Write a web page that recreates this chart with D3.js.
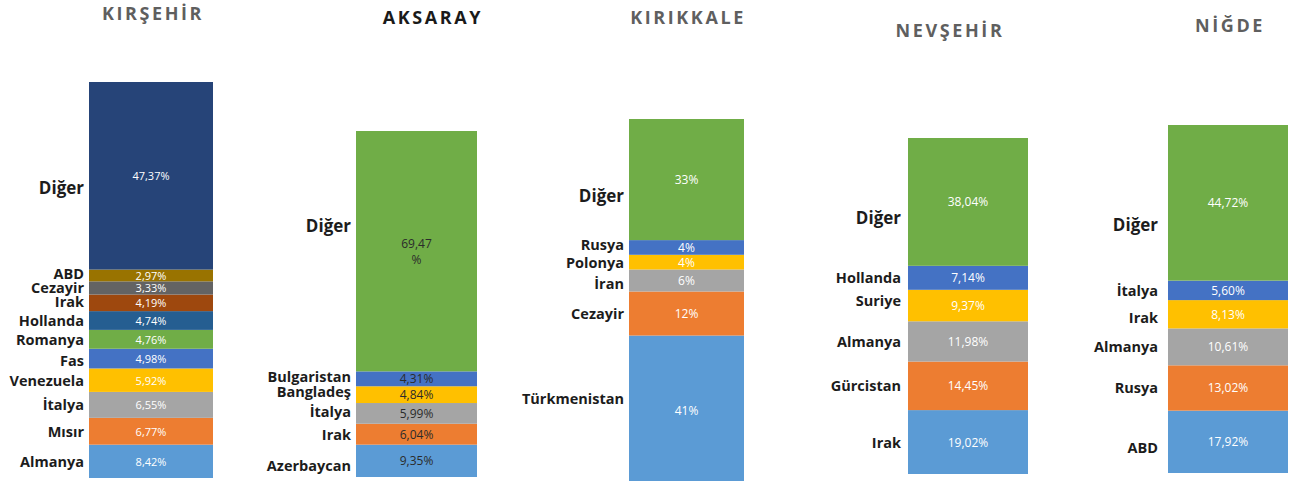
<!DOCTYPE html>
<html>
<head>
<meta charset="utf-8">
<script src="https://cdn.jsdelivr.net/npm/d3@7"></script>
<style>
  body { margin: 0; background: #fff; }
  text { font-family: "Open Sans", "DejaVu Sans", sans-serif; }
</style>
</head>
<body>
<div id="chart"></div>
<script>
// ---------------- DATA (bottom of each bar first) ----------------
var provinces = ["KIRŞEHİR", "AKSARAY", "KIRIKKALE", "NEVŞEHİR", "NİĞDE"];

var kirsehirCountries = ["Almanya", "Mısır", "İtalya", "Venezuela", "Fas", "Romanya", "Hollanda", "Irak", "Cezayir", "ABD", "Diğer"];
var kirsehirShares    = [8.42, 6.77, 6.55, 5.92, 4.98, 4.76, 4.74, 4.19, 3.33, 2.97, 47.37];

var aksarayCountries = ["Azerbaycan", "Irak", "İtalya", "Bangladeş", "Bulgaristan", "Diğer"];
var aksarayShares    = [9.35, 6.04, 5.99, 4.84, 4.31, 69.47];

var kirikkaleCountries = ["Türkmenistan", "Cezayir", "İran", "Polonya", "Rusya", "Diğer"];
var kirikkaleShares    = [41, 12, 6, 4, 4, 33];

var nevsehirCountries = ["Irak", "Gürcistan", "Almanya", "Suriye", "Hollanda", "Diğer"];
var nevsehirShares    = [19.02, 14.45, 11.98, 9.37, 7.14, 38.04];

var nigdeCountries = ["ABD", "Rusya", "Almanya", "Irak", "İtalya", "Diğer"];
var nigdeShares    = [17.92, 13.02, 10.61, 8.13, 5.60, 44.72];

var countries = [kirsehirCountries, aksarayCountries, kirikkaleCountries, nevsehirCountries, nigdeCountries];
var shares = [kirsehirShares, aksarayShares, kirikkaleShares, nevsehirShares, nigdeShares];

// office palette, used from the bottom segment up
var palette = ["#5b9bd5", "#ed7d31", "#a5a5a5", "#ffc000", "#4472c4", "#70ad47",
               "#255e91", "#9e480e", "#636363", "#997300", "#264478"];

// ---------------- LAYOUT (pixel boxes of each panel) ----------------
var layout = [
  { x0: 89,   x1: 213,  top: 82,  bottom: 478, tx: 153,  ty: 20, title: "#5f5f5f", value: "#fff",    gap: 5,  digits: 2, vsize: 11,
    shift: { "Diğer": 12, "ABD": -2, "Irak": -1, "Fas": 2 } },
  { x0: 356,  x1: 477,  top: 131, bottom: 477, tx: 433,  ty: 24, title: "#1a1a1a", value: "#2b2b2b", gap: 5,  digits: 2, vsize: 12, wrap: true,
    shift: { "Diğer": -26, "Bulgaristan": -2, "Bangladeş": -3, "İtalya": -2, "Azerbaycan": 5 } },
  { x0: 629,  x1: 744,  top: 119, bottom: 486, tx: 688,  ty: 24, title: "#5f5f5f", value: "#fff",    gap: 5,  digits: 0, vsize: 12,
    shift: { "Diğer": 16, "Rusya": -3, "İran": 3, "Türkmenistan": -12 } },
  { x0: 908,  x1: 1028, top: 138, bottom: 474, tx: 950,  ty: 37, title: "#5f5f5f", value: "#fff",    gap: 7,  digits: 2, vsize: 12,
    shift: { "Diğer": 16, "Suriye": -5 } },
  { x0: 1168, x1: 1288, top: 125, bottom: 473, tx: 1230, ty: 32, title: "#5f5f5f", value: "#fff",    gap: 10, digits: 2, vsize: 12,
    shift: { "Diğer": 22, "Irak": 3, "ABD": 6 } }
];

var width = 1290, height = 481;

var svg = d3.select("#chart")
  .append("svg")
  .attr("width", width)
  .attr("height", height);

// comma decimals like the original
var trLocale = d3.formatLocale({ decimal: ",", thousands: ".", grouping: [3], currency: ["", "₺"] });

provinces.forEach(function (name, i) {
  var L = layout[i];
  var names = countries[i];
  var vals = shares[i];
  var ends = Array.from(d3.cumsum(vals));
  var rows = vals.map(function (v, j) {
    return { country: names[j], value: v, y0: ends[j] - v, y1: ends[j], color: palette[j] };
  });

  var y = d3.scaleLinear().domain([0, 100]).range([L.bottom, L.top]);
  var fmt = trLocale.format("." + L.digits + "f");

  var g = svg.append("g").attr("class", "panel");

  // title
  g.append("text")
    .attr("x", L.tx)
    .attr("y", L.ty)
    .attr("text-anchor", "middle")
    .style("font-size", "18px")
    .style("font-weight", 700)
    .style("letter-spacing", "2.6px")
    .style("fill", L.title)
    .text(name);

  // segments
  g.selectAll("rect")
    .data(rows)
    .enter().append("rect")
    .attr("x", L.x0)
    .attr("width", L.x1 - L.x0)
    .attr("y", function (d) { return y(d.y1); })
    .attr("height", function (d) { return y(d.y0) - y(d.y1); })
    .style("fill", function (d) { return d.color; });

  // country labels on the left
  g.selectAll("text.cat")
    .data(rows)
    .enter().append("text")
    .attr("class", "cat")
    .attr("x", L.x0 - L.gap)
    .attr("y", function (d) { return y((d.y0 + d.y1) / 2) + (L.shift[d.country] || 0); })
    .attr("text-anchor", "end")
    .attr("dominant-baseline", "central")
    .style("font-size", function (d) { return d.country === "Diğer" ? "17px" : "14.5px"; })
    .style("font-weight", 700)
    .style("fill", "#1c1c1c")
    .text(function (d) { return d.country; });

  // value labels inside the segments
  g.selectAll("text.val")
    .data(rows)
    .enter().append("text")
    .attr("class", "val")
    .attr("x", (L.x0 + L.x1) / 2)
    .attr("y", function (d) { return y((d.y0 + d.y1) / 2); })
    .attr("text-anchor", "middle")
    .attr("dominant-baseline", "central")
    .style("font-size", L.vsize + "px")
    .style("fill", L.value)
    .each(function (d) {
      var t = d3.select(this);
      if (L.wrap && d.country === "Diğer") {
        // the long label wraps in the original
        t.append("tspan").attr("x", (L.x0 + L.x1) / 2).attr("dy", "-0.65em").text(fmt(d.value));
        t.append("tspan").attr("x", (L.x0 + L.x1) / 2).attr("dy", "1.3em").text("%");
      } else {
        t.text(fmt(d.value) + "%");
      }
    });
});
</script>
</body>
</html>
